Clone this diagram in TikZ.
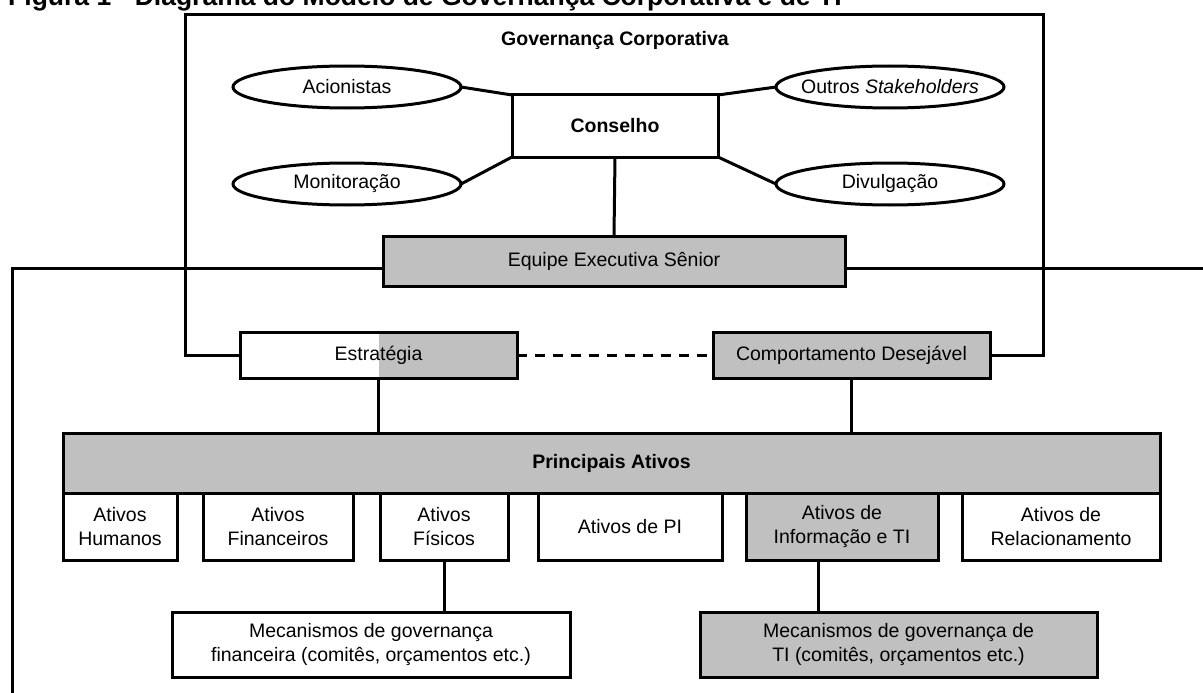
\documentclass[tikz,border=0pt]{standalone}
\usepackage{fontspec}
\setmainfont{Liberation Sans}
\usetikzlibrary{shapes.geometric}
\definecolor{boxgray}{HTML}{C0C0C0}
\newcommand{\txtfont}{\fontsize{19.5}{24}\selectfont}
\tikzset{
  lw/.style={line width=3pt},
  bx/.style={draw, lw, rectangle, inner sep=0pt, outer sep=0pt, align=center, font=\txtfont},
  gbx/.style={bx, fill=boxgray},
  ell/.style={draw, lw, ellipse, inner sep=0pt, outer sep=0pt, minimum width=228pt, minimum height=42pt, font=\txtfont},
  conn/.style={lw},
}
\begin{document}
\begin{tikzpicture}[x=1pt,y=-1pt]
\useasboundingbox (0,0) rectangle (1203,693);
\fill[white] (0,0) rectangle (1203,693);
% title
\node[anchor=base west, inner sep=0pt, font=\fontsize{26.5}{30}\selectfont\bfseries] (title) at (8,5.5) {Figura 1 - Diagrama do Modelo de Governança Corporativa e de TI};
% governance frame
\coordinate (ftl) at (185,15);
\coordinate (ftr) at (1043,15);
\node[inner sep=0pt, font=\txtfont\bfseries] (gc) at (615,40) {Governança Corporativa};
% Conselho
\node[bx, minimum width=206pt, minimum height=62pt, font=\txtfont\bfseries] (cons) at (615,126) {Conselho};
\node[ell] (acio) at (347,87) {\makebox[0pt][c]{Acionistas}};
\node[ell] (outr) at (890,87) {\makebox[0pt][c]{Outros \textit{Stakeholders}}};
\node[ell] (moni) at (347,184) {\makebox[0pt][c]{Monitoração}};
\node[ell] (divu) at (890,184) {\makebox[0pt][c]{Divulgação}};
\draw[conn] (acio.east) -- (cons.north west);
\draw[conn] (outr.west) -- (cons.north east);
\draw[conn] (moni.east) -- (cons.south west);
\draw[conn] (divu.west) -- (cons.south east);
% Equipe
\node[gbx, minimum width=462pt, minimum height=50pt] (equi) at (614,261) {Equipe Executiva Sênior};
\draw[conn] (cons.south) -- (equi.north);
% Estrategia / Comportamento
\node[bx, minimum width=277pt, minimum height=46pt,
  path picture={\fill[boxgray] (path picture bounding box.north) rectangle (path picture bounding box.south east);}] (estr) at (378.5,355) {Estratégia};
\node[gbx, minimum width=277pt, minimum height=46pt] (comp) at (851.5,355) {Comportamento Desejável};
\draw[conn, dash pattern=on 10pt off 8pt] (estr.east) -- (comp.west);
\draw[conn, line join=miter] (estr.west) -| (ftl) -- (ftr) |- (comp.east);
% long line
\coordinate (lbot) at (12,700);
\coordinate (rend) at (1210,268);
\draw[conn, line join=miter] (equi.west |- 0,268) -| (lbot);
\draw[conn] (equi.east |- 0,268) -- (rend);
% Principais
\node[gbx, minimum width=1097pt, minimum height=60pt, font=\txtfont\bfseries] (prin) at (611.5,463) {Principais Ativos};
\draw[conn] (estr.south) -- (estr.south |- prin.north);
\draw[conn] (comp.south) -- (comp.south |- prin.north);
% sub boxes
\node[bx, minimum width=114pt, minimum height=67pt] (hum) at (120,526.5) {Ativos\\Humanos};
\node[bx, minimum width=150pt, minimum height=67pt] (fin) at (278,526.5) {Ativos\\Financeiros};
\node[bx, minimum width=128pt, minimum height=67pt] (fis) at (444,526.5) {Ativos\\Físicos};
\node[bx, minimum width=184pt, minimum height=67pt] (pi) at (630,526.5) {Ativos de PI};
\node[gbx, minimum width=192pt, minimum height=67pt] (inf) at (842,526.5) {Ativos de\\Informação e TI};
\node[bx, minimum width=198pt, minimum height=67pt] (rel) at (1061,526.5) {Ativos de\\Relacionamento};
% mechanisms
\node[bx, minimum width=398pt, minimum height=65pt] (mecf) at (371,644.5) {Mecanismos de governança\\financeira (comitês, orçamentos etc.)};
\node[gbx, minimum width=397pt, minimum height=65pt] (mect) at (898.5,644.5) {Mecanismos de governança de\\TI (comitês, orçamentos etc.)};
\draw[conn] (fis.south) -- (fis.south |- mecf.north);
\draw[conn] (inf.south -| 818,0) -- (mect.north -| 818,0);
\end{tikzpicture}
\end{document}
